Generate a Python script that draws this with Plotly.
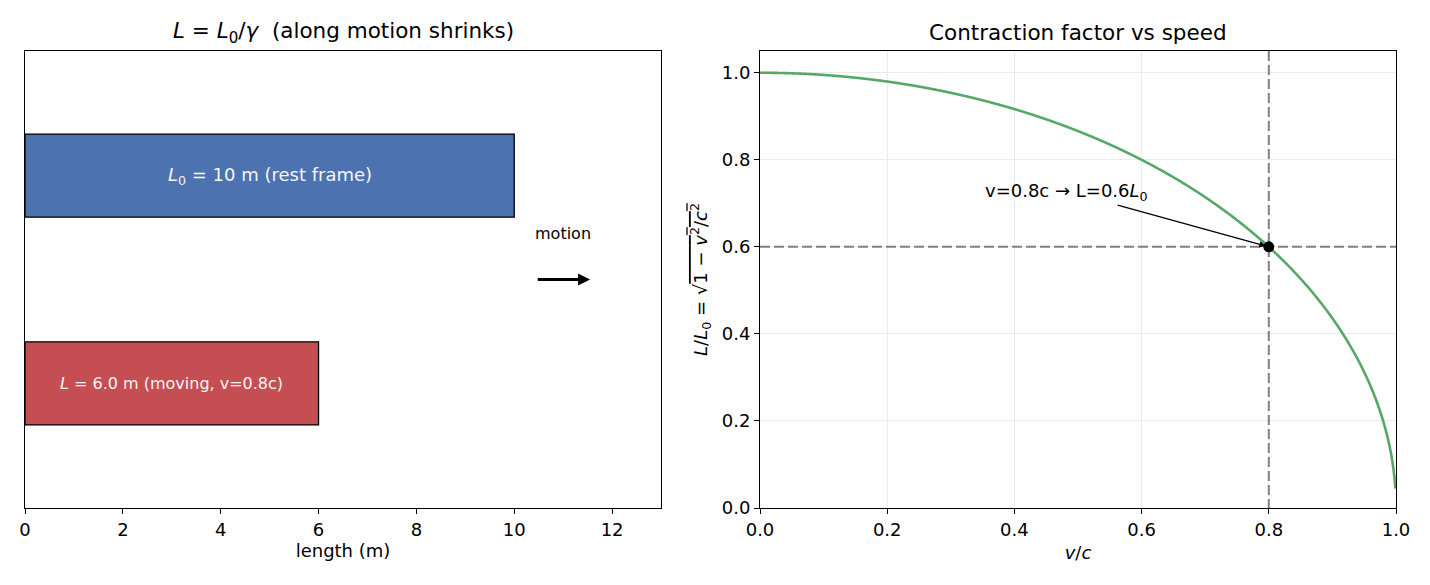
import numpy as np
import plotly.graph_objects as go

# ---- data ----
bar_labels = ["moving", "rest"]
bar_lengths = [6.0, 10.0]
bar_pos = [0, 1]
bar_colors = ["#c44e52", "#4c72b0"]
left_xticks = [0, 2, 4, 6, 8, 10, 12]

v_speed = np.linspace(0, 0.999, 3000)
contraction = np.sqrt(1 - v_speed**2)
v_mark = 0.8
L_mark = 0.6
right_ticks = [0.0, 0.2, 0.4, 0.6, 0.8, 1.0]

FONT = "DejaVu Sans"
W, H = 1430, 585
L, R, T, B = 25, 34, 51, 77
PW = W - L - R
PH = H - T - B
FS = 18  # 10pt at 130 dpi

fig = go.Figure()

fig.add_trace(go.Bar(
    x=bar_lengths, y=bar_pos, orientation="h", width=0.4,
    marker=dict(color=bar_colors, line=dict(color="black", width=1.3)),
    xaxis="x", yaxis="y", showlegend=False, hoverinfo="skip"))

fig.add_trace(go.Scatter(
    x=v_speed, y=contraction, mode="lines",
    line=dict(color="#55a868", width=2.6, simplify=False),
    xaxis="x2", yaxis="y2", showlegend=False))
fig.add_trace(go.Scatter(x=[v_mark, v_mark], y=[1.05, 0], mode="lines",
    line=dict(color="gray", width=2, dash="10px,4px"),
    xaxis="x2", yaxis="y2", showlegend=False))
fig.add_trace(go.Scatter(x=[0, 1], y=[L_mark, L_mark], mode="lines",
    line=dict(color="gray", width=2, dash="10px,4px"),
    xaxis="x2", yaxis="y2", showlegend=False))
fig.add_trace(go.Scatter(x=[v_mark], y=[L_mark], mode="markers",
    marker=dict(color="black", size=11),
    xaxis="x2", yaxis="y2", showlegend=False))

axis_common = dict(showline=True, linecolor="black", linewidth=1, mirror=True,
                   ticks="outside", ticklen=5, tickcolor="black", automargin=False,
                   tickfont=dict(family=FONT, size=FS, color="black"), zeroline=False)

fig.update_layout(
    width=W, height=H,
    margin=dict(l=L, r=R, t=T, b=B, autoexpand=False),
    paper_bgcolor="white", plot_bgcolor="white",
    font=dict(family=FONT, color="black"),
    xaxis=dict(domain=[0, (661 - L) / PW], range=[0, 13], tickvals=left_xticks,
               showgrid=False, anchor="y",
               title=dict(text="length (m)", font=dict(family=FONT, size=FS), standoff=5),
               **axis_common),
    yaxis=dict(domain=[0, 1], range=[-0.6, 1.6], showticklabels=False,
               showgrid=False, anchor="x",
               **{k: v for k, v in axis_common.items() if k != "ticks"}, ticks=""),
    xaxis2=dict(domain=[(760 - L) / PW, 1], range=[0, 1], tickvals=right_ticks,
                tickformat=".1f", showgrid=True, gridcolor="#ebebeb", anchor="y2",
                title=dict(text="<i>v</i>/<i>c</i>", font=dict(family=FONT, size=FS), standoff=7),
                **axis_common),
    yaxis2=dict(domain=[0, 1], range=[0, 1.05], tickvals=right_ticks,
                tickformat=".1f", showgrid=True, gridcolor="#ebebeb", anchor="x2",
                title=dict(text="<i>L</i>/<i>L</i><sub>0</sub> = √<span style='text-decoration:overline'>1 − <i>v</i><sup>2</sup>/<i>c</i><sup>2</sup></span>",
                           font=dict(family=FONT, size=FS), standoff=9),
                **axis_common),
)

ann = []
ann.append(dict(text="<i>L</i> = <i>L</i><sub>0</sub>/<i>γ</i>  (along motion shrinks)",
                xref="paper", yref="paper", x=(661 - L) / 2 / PW, y=1 + (51 - 33) / PH,
                showarrow=False, font=dict(family=FONT, size=21.5), xanchor="center", yanchor="middle"))
ann.append(dict(text="Contraction factor vs speed",
                xref="paper", yref="paper", x=((760 + 1396) / 2 - L) / PW, y=1 + (51 - 33) / PH,
                showarrow=False, font=dict(family=FONT, size=21.5), xanchor="center", yanchor="middle"))
ann.append(dict(text="<i>L</i><sub>0</sub> = 10 m (rest frame)", x=5, y=1, xref="x", yref="y",
                showarrow=False, font=dict(family=FONT, size=FS, color="#f5f5f5")))
ann.append(dict(text="<i>L</i> = 6.0 m (moving, v=0.8c)", x=3, y=0, xref="x", yref="y",
                showarrow=False, font=dict(family=FONT, size=16, color="#f5f5f5")))
ann.append(dict(text="motion", x=11, y=0.72, xref="x", yref="y",
                showarrow=False, font=dict(family=FONT, size=16)))
ann.append(dict(x=11.55, y=0.5, ax=10.45, ay=0.5, xref="x", yref="y", axref="x", ayref="y",
                text="", showarrow=True, arrowhead=2, arrowsize=0.8, arrowwidth=3, arrowcolor="black"))
ann.append(dict(text="v=0.8c → L=0.6<i>L</i><sub>0</sub>", x=0.35, y=0.695, xref="x2", yref="y2",
                xanchor="left", yanchor="bottom", showarrow=False, font=dict(family=FONT, size=FS)))
ann.append(dict(x=v_mark, y=L_mark, ax=0.56, ay=0.697, xref="x2", yref="y2", axref="x2", ayref="y2",
                text="", showarrow=True, arrowhead=2, arrowsize=1.0, arrowwidth=1.3,
                arrowcolor="black", standoff=3))
fig.update_layout(annotations=ann)

fig.write_html("out.html", post_script="document.body.style.margin='0';")
